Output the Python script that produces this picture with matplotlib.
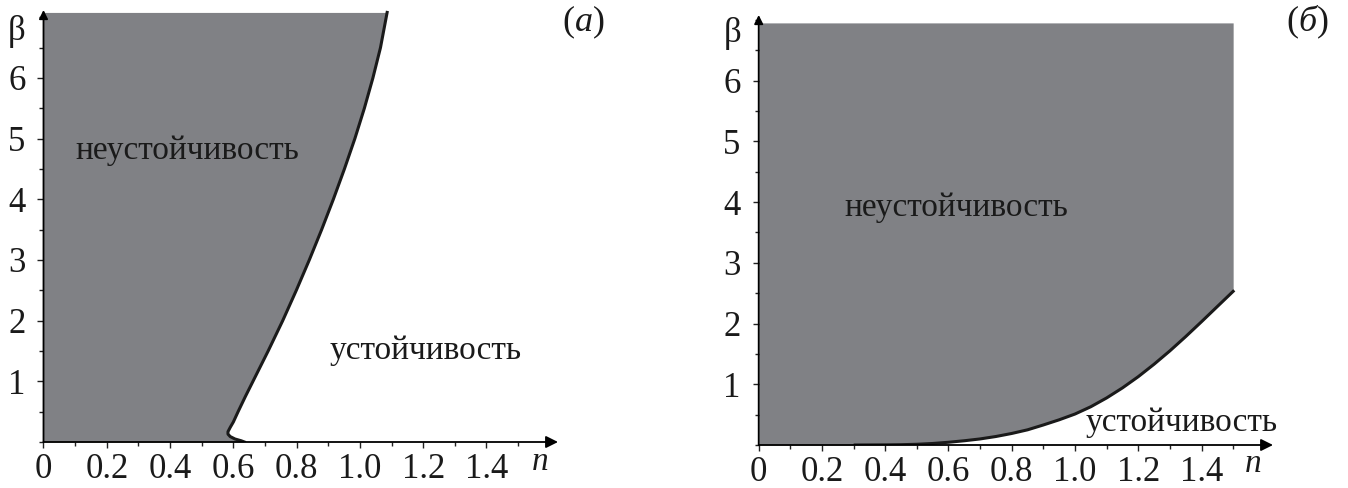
import matplotlib.pyplot as plt
import numpy as np
from matplotlib.ticker import MultipleLocator, FixedLocator

W, H = 1348, 488

# left panel (a): boundary n(beta)
beta_a = [0.0, 0.02, 0.05, 0.09, 0.13, 0.17, 0.24, 0.33, 0.5, 0.75, 1.0, 1.5, 2.0,
          2.5, 3.0, 3.5, 4.0, 4.5, 5.0, 5.5, 6.0, 6.5, 7.08]
n_a = [0.635, 0.625, 0.605, 0.59, 0.583, 0.583, 0.59, 0.6, 0.615, 0.638, 0.662, 0.71,
       0.756, 0.799, 0.84, 0.879, 0.916, 0.951, 0.984, 1.014, 1.041, 1.065, 1.086]

# right panel (б): boundary beta(n)
n_b = [0.305, 0.4, 0.45, 0.5, 0.55, 0.6, 0.65, 0.7, 0.75, 0.8, 0.85, 0.9, 0.95, 1.0,
       1.05, 1.1, 1.15, 1.2, 1.25, 1.3, 1.35, 1.4, 1.45, 1.5]
beta_b = [0.0, 0.002, 0.005, 0.012, 0.025, 0.045, 0.07, 0.1, 0.14, 0.19, 0.25, 0.33,
          0.415, 0.51, 0.63, 0.775, 0.94, 1.125, 1.33, 1.55, 1.785, 2.03, 2.28, 2.53]
top_b = 6.95

x_ticks = [0, 0.2, 0.4, 0.6, 0.8, 1.0, 1.2, 1.4]
x_labels = ["0", "0.2", "0.4", "0.6", "0.8", "1.0", "1.2", "1.4"]
y_ticks = [1, 2, 3, 4, 5, 6]

GRAY = "#808185"
INK = "#1a1a1a"
FONT = "Liberation Serif"
FS = 24
TICK_FS = 25

plt.rcParams["font.family"] = [FONT, "DejaVu Serif"]
plt.rcParams["mathtext.fontset"] = "custom"
plt.rcParams["mathtext.rm"] = FONT
plt.rcParams["mathtext.it"] = FONT + ":italic"

fig = plt.figure(figsize=(W / 100, H / 100), dpi=100)


def px(x, y):
    return x / W, 1 - y / H


def make_axes(x0, x1, y0, y1, ymax):
    # x0/x1: pixel x of n=0 and arrow tip, y0/y1: pixel y of beta=0 and arrow tip
    ax = fig.add_axes([x0 / W, 1 - y0 / H, (x1 - x0) / W, (y0 - y1) / H])
    xmax = 1.626
    ax.set_xlim(0, xmax)
    ax.set_ylim(0, ymax)
    for s in ax.spines.values():
        s.set_visible(False)
    ax.set_facecolor("none")
    ax.xaxis.set_major_locator(FixedLocator(x_ticks))
    ax.set_xticklabels(x_labels)
    ax.xaxis.set_minor_locator(FixedLocator(np.arange(0.1, 1.55, 0.2)))
    ax.yaxis.set_major_locator(FixedLocator(y_ticks))
    ax.yaxis.set_minor_locator(MultipleLocator(0.5))
    ax.tick_params(which="both", direction="out", width=1, color="#222222",
                   labelsize=TICK_FS, length=4, labelcolor=INK)
    ax.tick_params(which="minor", length=3)
    ax.tick_params(axis="x", pad=4)
    ax.tick_params(axis="y", pad=9)
    ax.annotate("", xy=(xmax, 0), xytext=(0, 0),
                arrowprops=dict(arrowstyle="-|>", lw=1.3, color="k",
                                mutation_scale=18, shrinkA=0, shrinkB=0),
                annotation_clip=False)
    ax.annotate("", xy=(0, ymax), xytext=(0, 0),
                arrowprops=dict(arrowstyle="-|>", lw=1.3, color="k",
                                mutation_scale=13, shrinkA=0, shrinkB=0),
                annotation_clip=False)
    return ax


# panel (a)
ax1 = make_axes(43.5, 558, 442, 10, 7.12)
ax1.fill_betweenx(beta_a, 0, n_a, color=GRAY, lw=0, zorder=0)
ax1.plot(n_a, beta_a, color=INK, lw=2.2, solid_joinstyle="round", zorder=2)
ax1.text(0.1, 4.8, "неустойчивость", fontsize=FS, color=INK, va="center")
ax1.text(0.905, 1.5, "устойчивость", fontsize=FS, color=INK, va="center")

# panel (б)
ax2 = make_axes(758.7, 1273, 445, 15, 7.08)
n_fill = [0.0] + n_b
b_fill = [0.0] + beta_b
ax2.fill_between(n_fill, b_fill, top_b, color=GRAY, lw=0, zorder=0)
ax2.plot(n_b, beta_b, color=INK, lw=2.2, solid_joinstyle="round", zorder=2)
ax2.text(0.27, 3.9, "неустойчивость", fontsize=FS, color=INK, va="center")
ax2.text(1.034, 0.36, "устойчивость", fontsize=FS, color=INK, va="center")

# axis names and panel letters
for (x, y, s) in [(17, 31, "β"), (733, 33, "β")]:
    fig.text(*px(x, y), s, fontsize=FS + 1, color=INK, ha="center", va="center")
for (x, y) in [(540, 462), (1253, 464)]:
    fig.text(*px(x, y), "n", fontsize=FS, color=INK, style="italic",
             ha="center", va="center")
fig.text(*px(583, 22), r"($\mathit{а}$)", fontsize=FS + 2, color=INK,
         ha="center", va="center")
fig.text(*px(1307, 22), r"($\mathit{б}$)", fontsize=FS + 2, color=INK,
         ha="center", va="center")

fig.savefig("out.png", dpi=100, facecolor="white")
